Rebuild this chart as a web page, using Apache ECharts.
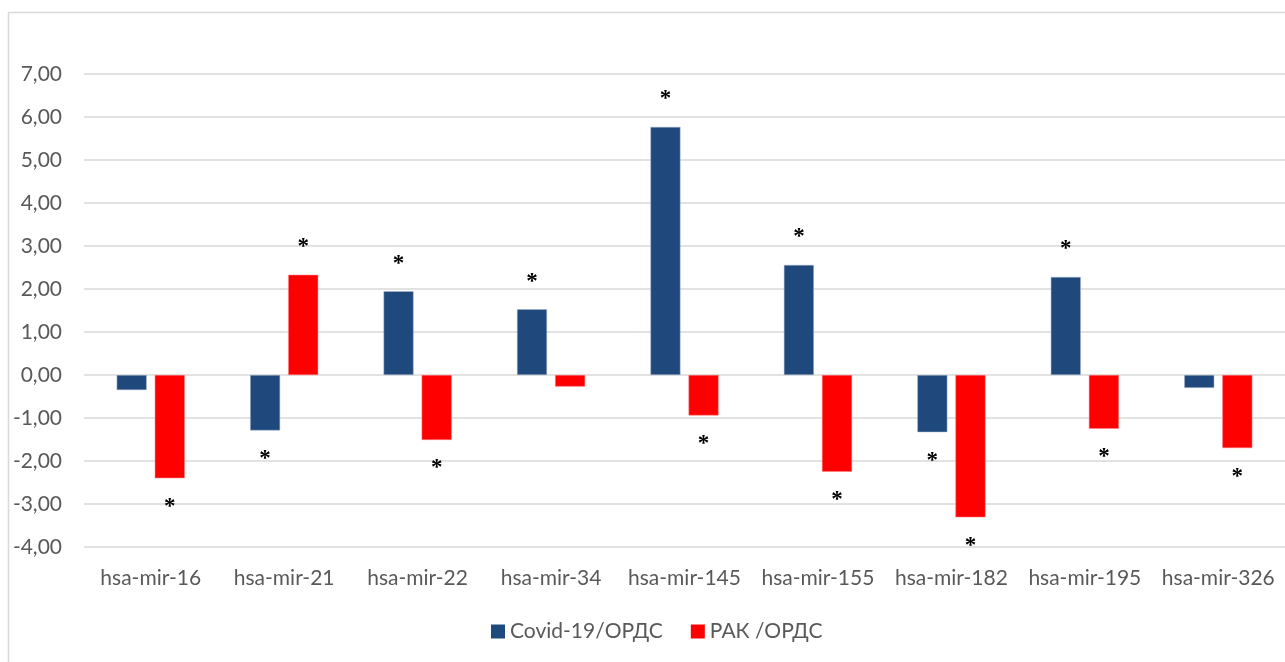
<!DOCTYPE html>
<html>
<head>
<meta charset="utf-8">
<script src="https://cdn.jsdelivr.net/npm/echarts@6/dist/echarts.min.js"></script>
<style>
  html, body { margin: 0; padding: 0; background: #fff; }
  #chart { width: 1285px; height: 662px; }
</style>
</head>
<body>
<div id="chart"></div>
<script>
const categories = ['hsa-mir-16', 'hsa-mir-21', 'hsa-mir-22', 'hsa-mir-34', 'hsa-mir-145', 'hsa-mir-155', 'hsa-mir-182', 'hsa-mir-195', 'hsa-mir-326']
const covidValues = [-0.35, -1.29, 1.95, 1.53, 5.77, 2.56, -1.33, 2.28, -0.30]
const rakValues = [-2.40, 2.33, -1.51, -0.27, -0.94, -2.25, -3.31, -1.25, -1.70]
// 1 = significant (asterisk shown)
const covidSig = [0, 1, 1, 1, 1, 1, 1, 1, 0]
const rakSig = [1, 1, 1, 0, 1, 1, 1, 1, 1]
const seriesNames = ['Covid-19/ОРДС', 'РАК /ОРДС']

const font = 'Lato, sans-serif'
const fontSize = 21

function barData(values, sig) {
  return values.map((v, i) => ({
    value: v,
    label: {
      show: sig[i] === 1,
      position: v >= 0 ? 'top' : 'bottom',
      distance: v >= 0 ? 16 : 17,
    },
  }))
}

const starLabel = {
  formatter: '*',
  fontFamily: 'Liberation Serif, serif',
  fontSize: 23,
  fontWeight: 'bold',
  color: '#000',
}

const chart = echarts.init(document.getElementById('chart'))
chart.setOption({
  animation: false,
  graphic: [
    {
      type: 'rect',
      shape: { x: 8.5, y: 12.5, width: 1320, height: 700 },
      style: { fill: 'none', stroke: '#d9d9d9', lineWidth: 1.5 },
      silent: true,
    },
  ],
  grid: { left: 84, top: 74, width: 1214, height: 473, containLabel: false },
  legend: {
    data: seriesNames,
    left: 486,
    top: 616,
    icon: 'rect',
    itemWidth: 14,
    itemHeight: 14,
    itemGap: 28,
    itemStyle: { borderWidth: 0 },
    textStyle: { fontFamily: font, fontSize: fontSize, color: '#595959' },
  },
  xAxis: {
    type: 'category',
    data: categories,
    position: 'bottom',
    axisLine: { show: false, onZero: false },
    axisTick: { show: false },
    axisLabel: { interval: 0, fontFamily: font, fontSize: fontSize, color: '#595959', margin: 21 },
  },
  yAxis: {
    type: 'value',
    min: -4,
    max: 7,
    interval: 1,
    axisLine: { show: false },
    axisTick: { show: false },
    splitLine: { lineStyle: { color: '#d9d9d9', width: 1.5 } },
    axisLabel: {
      fontFamily: font,
      fontSize: fontSize,
      color: '#595959',
      margin: 22,
      formatter: (v) => v.toFixed(2).replace('.', ','),
    },
  },
  series: [
    {
      name: seriesNames[0],
      type: 'bar',
      data: barData(covidValues, covidSig),
      barWidth: 30,
      barGap: '27%',
      itemStyle: { color: '#1f497d', borderColor: '#a9b8cc', borderWidth: 0.5 },
      label: starLabel,
    },
    {
      name: seriesNames[1],
      type: 'bar',
      data: barData(rakValues, rakSig),
      barWidth: 30,
      itemStyle: { color: '#ff0000', borderColor: '#ff8080', borderWidth: 0.5 },
      label: starLabel,
    },
  ],
})
</script>
</body>
</html>
